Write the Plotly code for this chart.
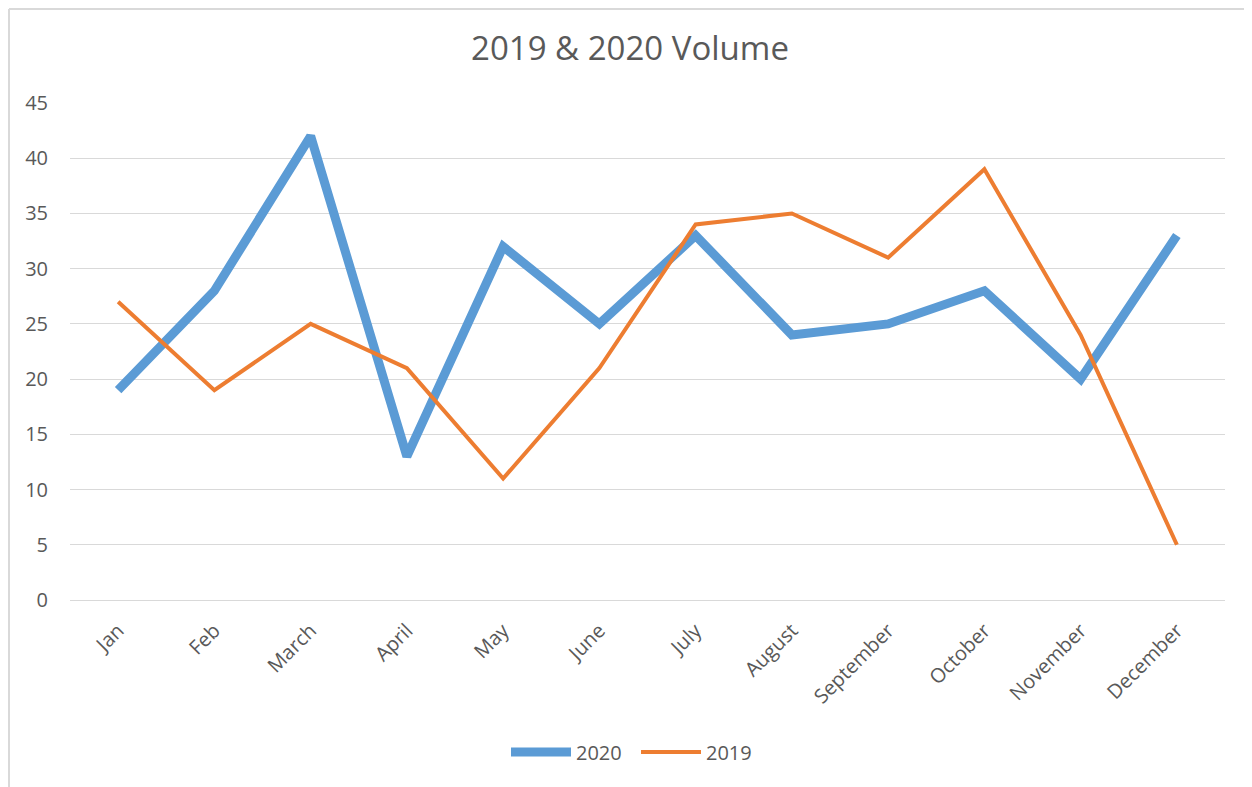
import plotly.graph_objects as go

months = ["Jan", "Feb", "March", "April", "May", "June", "July", "August",
          "September", "October", "November", "December"]
vol_2020 = [19, 28, 42, 13, 32, 25, 33, 24, 25, 28, 20, 33]
vol_2019 = [27, 19, 25, 21, 11, 21, 34, 35, 31, 39, 24, 5]

FONT = "Open Sans, Liberation Sans, Arial, sans-serif"
GRAY = "#595959"

fig = go.Figure()
fig.add_trace(go.Scatter(x=months, y=vol_2020, mode="lines", name="2020",
                         line=dict(color="#5B9BD5", width=9)))
fig.add_trace(go.Scatter(x=months, y=vol_2019, mode="lines", name="2019",
                         line=dict(color="#ED7D31", width=4)))

# page is offset by 8px body margin; plot area in page: x 70..1225, y 103..600
L, T, PW, PH = 62, 95, 1155, 497
W, H = 1252, 787
fig.update_layout(
    width=W, height=H,
    margin=dict(l=L, r=W - L - PW, t=T, b=H - T - PH, autoexpand=False),
    paper_bgcolor="white", plot_bgcolor="white",
    font=dict(family=FONT, color=GRAY, size=20),
    title=dict(text="2019 & 2020 Volume", xref="container", x=622 / W,
               xanchor="center", y=1 - 40 / H, yanchor="middle",
               font=dict(family=FONT, size=33, color=GRAY)),
    showlegend=True,
    legend=dict(orientation="h", x=(628 - L) / PW, xanchor="center",
                y=(T + PH - (752 - 8)) / PH, yanchor="middle",
                font=dict(family=FONT, size=20, color=GRAY), itemwidth=60,
                entrywidth=55),
    shapes=[
        dict(type="line", xref="paper", yref="paper",
             x0=(1 - L) / PW, x1=1.1, y0=(T + PH - 1) / PH, y1=(T + PH - 1) / PH,
             line=dict(color="#d9d9d9", width=2)),
        dict(type="line", xref="paper", yref="paper",
             x0=(1 - L) / PW, x1=(1 - L) / PW, y0=(T + PH - 1) / PH, y1=-0.5,
             line=dict(color="#d9d9d9", width=2)),
    ],
)
fig.update_xaxes(range=[-0.5, 11.5], showgrid=False, showline=True, linecolor="#d9d9d9",
                 linewidth=1, tickangle=-45, ticks="", ticklabelstandoff=10,
                 tickfont=dict(family=FONT, size=20, color=GRAY))
fig.update_yaxes(range=[0, 45], dtick=5, showgrid=True, gridcolor="#d9d9d9",
                 gridwidth=1, zeroline=False, showline=False, ticks="",
                 ticklabelstandoff=21, tickfont=dict(family=FONT, size=20, color=GRAY))

fig.write_html("out.html")
